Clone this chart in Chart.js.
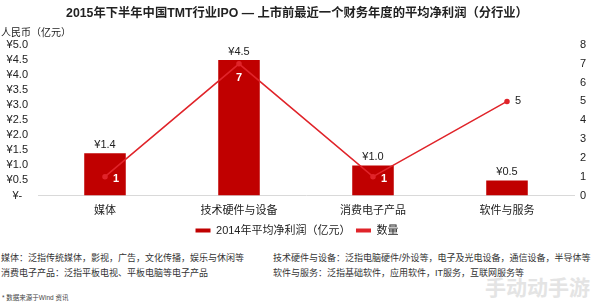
<!DOCTYPE html>
<html>
<head>
<meta charset="utf-8">
<script src="https://cdn.jsdelivr.net/npm/chart.js@4"></script>
<style>
  body { margin: 0; background: #fff; font-family: "Liberation Sans", "Noto Sans CJK SC", sans-serif; }
  #wrap { position: relative; width: 594px; height: 305px; overflow: hidden; }
  #chartBox { position: absolute; left: 0; top: 0; width: 594px; height: 249px; }
  .txt { position: absolute; white-space: nowrap; color: #222; }
  #title { top: 3px; left: 0; width: 594px; text-align: center; font-weight: bold; font-size: 12.3px; }
  #unit { top: 24px; left: 1px; font-size: 10px; }
  .note { font-size: 9px; color: #333; }
  #src { top: 292px; left: 2px; font-size: 6.5px; color: #444; }
  #mark { top: 271px; left: 485px; font-size: 21px; font-weight: bold; color: #e4e4e4; }
</style>
</head>
<body>
<div id="wrap">
  <div id="chartBox"><canvas id="myChart"></canvas></div>
  <div class="txt" id="title">2015年下半年中国TMT行业IPO — 上市前最近一个财务年度的平均净利润（分行业）</div>
  <div class="txt" id="unit">人民币（亿元）</div>
  <div class="txt note" style="top:251px;left:1px;">媒体：泛指传统媒体，影视，广告，文化传播，娱乐与休闲等</div>
  <div class="txt note" style="top:251px;left:273px;">技术硬件与设备：泛指电脑硬件/外设等，电子及光电设备，通信设备，半导体等</div>
  <div class="txt note" style="top:266px;left:1px;">消费电子产品：泛指平板电视、平板电脑等电子产品</div>
  <div class="txt note" style="top:266px;left:273px;">软件与服务：泛指基础软件，应用软件，IT服务，互联网服务等</div>
  <div class="txt" id="src">* 数据来源于Wind 资讯</div>
  <div class="txt" id="mark">手动动手游</div>
</div>
<script>
const categories = ['媒体', '技术硬件与设备', '消费电子产品', '软件与服务'];
const profit2014 = [1.4, 4.5, 1.0, 0.5];   // 亿元
const ipoCount = [1, 7, 1, 5];
const leftTicks = [0, 0.5, 1, 1.5, 2, 2.5, 3, 3.5, 4, 4.5, 5];

const fontFamily = '"Liberation Sans", "Noto Sans CJK SC", sans-serif';

// value labels: bar values above bars, counts next to line points
const valueLabels = {
    id: 'valueLabels',
    afterDatasetsDraw(chart) {
        const ctx = chart.ctx;
        ctx.save();
        ctx.font = '11px ' + fontFamily;
        ctx.textAlign = 'center';
        ctx.textBaseline = 'bottom';
        ctx.fillStyle = '#222';
        chart.getDatasetMeta(1).data.forEach((bar, i) => {
            ctx.fillText('¥' + profit2014[i].toFixed(1), bar.x, bar.y - 3);
        });
        chart.getDatasetMeta(0).data.forEach((pt, i) => {
            const v = ipoCount[i];
            ctx.textBaseline = 'middle';
            if (i === 1) {
                ctx.font = 'bold 11px ' + fontFamily;
                ctx.fillStyle = '#fff';
                ctx.textAlign = 'center';
                ctx.fillText(String(v), pt.x, pt.y + 14);
            } else if (i === 3) {
                ctx.font = '11px ' + fontFamily;
                ctx.fillStyle = '#222';
                ctx.textAlign = 'left';
                ctx.fillText(String(v), pt.x + 8, pt.y);
            } else {
                ctx.font = 'bold 11px ' + fontFamily;
                ctx.fillStyle = '#fff';
                ctx.textAlign = 'left';
                ctx.fillText(String(v), pt.x + 8, pt.y + 2);
            }
        });
        ctx.restore();
    }
};

const ctx = document.getElementById('myChart').getContext('2d');
const chart = new Chart(ctx, {
    data: {
        labels: categories,
        datasets: [
            {
                type: 'line',
                label: '数量',
                data: ipoCount,
                yAxisID: 'y1',
                borderColor: '#e0242a',
                backgroundColor: '#e0242a',
                borderWidth: 1.5,
                pointRadius: 2,
                pointHoverRadius: 2,
                tension: 0,
                order: 1
            },
            {
                type: 'bar',
                label: '2014年平均净利润（亿元）',
                data: profit2014,
                yAxisID: 'y',
                backgroundColor: '#c00000',
                borderWidth: 0,
                barPercentage: 0.62,
                categoryPercentage: 0.5,
                order: 2
            }
        ]
    },
    options: {
        responsive: true,
        maintainAspectRatio: false,
        animation: false,
        layout: { padding: { top: 45, left: 0, right: 0, bottom: 3 } },
        plugins: {
            legend: {
                position: 'bottom',
                reverse: true,
                labels: {
                    font: { size: 11, family: fontFamily },
                    color: '#222',
                    boxWidth: 15,
                    boxHeight: 4,
                    padding: 5.5,
                    generateLabels(chart) {
                        const items = Chart.defaults.plugins.legend.labels.generateLabels(chart);
                        items.forEach(it => { it.lineWidth = 0; it.strokeStyle = it.fillStyle; });
                        return items;
                    }
                }
            },
            tooltip: { enabled: false }
        },
        scales: {
            x: {
                afterFit(axis) { axis.height = 24; },
                grid: { display: false, drawTicks: false },
                border: { color: '#d9d9d9' },
                ticks: { font: { size: 11, family: fontFamily }, color: '#222', padding: 9 }
            },
            y: {
                position: 'left',
                min: 0, max: 5,
                afterBuildTicks(axis) { axis.ticks = leftTicks.map(v => ({ value: v })); },
                afterFit(axis) { axis.width = 38; },
                grid: { display: false, drawTicks: false },
                border: { display: false },
                ticks: {
                    autoSkip: false,
                    font: { size: 11, family: fontFamily },
                    color: '#222',
                    crossAlign: 'center',
                    padding: 10,
                    callback: v => v === 0 ? '¥-' : '¥' + Number(v).toFixed(1)
                }
            },
            y1: {
                position: 'right',
                min: 0, max: 8,
                afterFit(axis) { axis.width = 20; },
                grid: { display: false, drawTicks: false },
                border: { display: false },
                ticks: {
                    stepSize: 1,
                    autoSkip: false,
                    font: { size: 11, family: fontFamily },
                    color: '#222',
                    padding: 6
                }
            }
        }
    },
    plugins: [valueLabels]
});
</script>
</body>
</html>
